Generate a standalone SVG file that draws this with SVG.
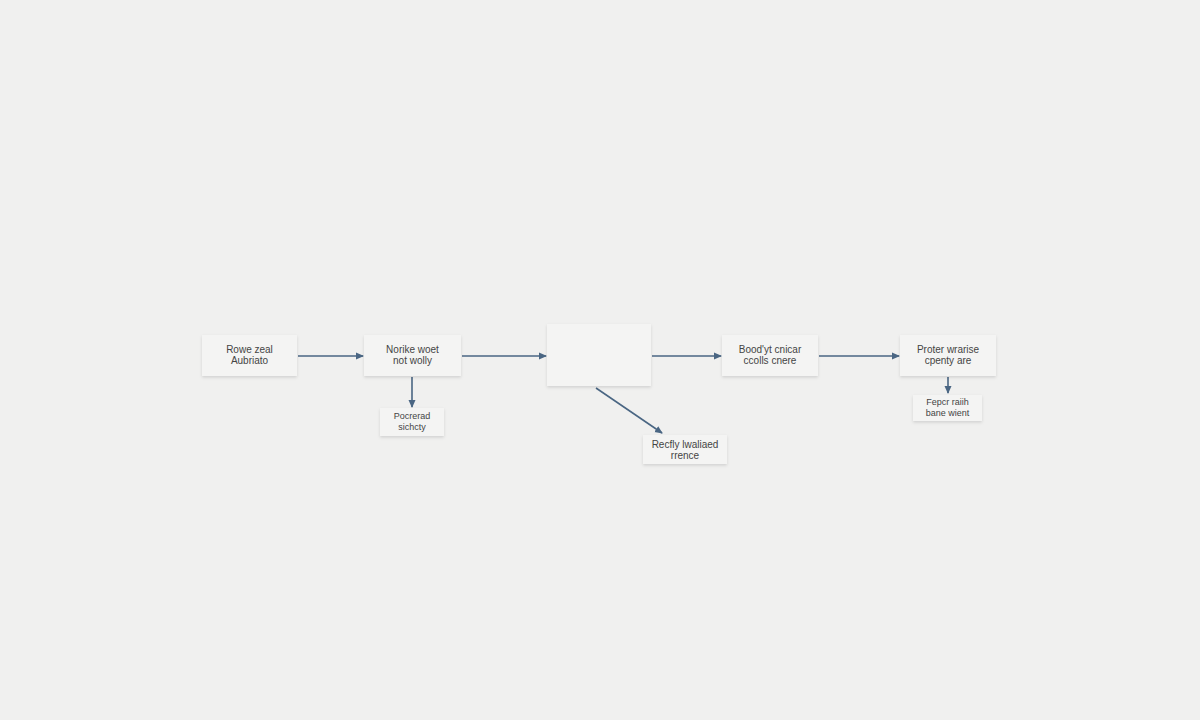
<svg xmlns="http://www.w3.org/2000/svg" width="1200" height="720" viewBox="0 0 1200 720">
<defs>
<filter id="sh" x="-20%" y="-20%" width="140%" height="160%"><feDropShadow dx="0" dy="1.5" stdDeviation="1.8" flood-color="#000" flood-opacity="0.13"/></filter>
<marker id="ah" markerWidth="8" markerHeight="8" refX="7" refY="4" orient="auto" markerUnits="userSpaceOnUse"><path d="M0,0.5 L8,4 L0,7.5 Z" fill="#4a6683"/></marker>
</defs>
<style>
.b{fill:#f4f4f3;filter:url(#sh)}
.t{font-family:"Liberation Sans",Arial,sans-serif;font-size:10px;fill:#444;text-anchor:middle}
.s{font-size:9px}
.c{stroke:#4a6683;stroke-width:1.6;fill:none;marker-end:url(#ah)}
</style>
<rect width="1200" height="720" fill="#f0f0ef"/>
<g id="connectors">
<line class="c" x1="298" y1="356" x2="363" y2="356"/>
<line class="c" x1="462" y1="356" x2="546" y2="356"/>
<line class="c" x1="652" y1="356" x2="721" y2="356"/>
<line class="c" x1="819" y1="356" x2="899" y2="356"/>
<line class="c" x1="412" y1="377" x2="412" y2="407"/>
<line class="c" x1="596" y1="388" x2="662" y2="433"/>
<line class="c" x1="948" y1="377" x2="948" y2="393"/>
</g>
<g id="n1"><rect class="b" x="202" y="335" width="95" height="41"/><text class="t" x="249.5" y="353">Rowe zeal</text><text class="t" x="249.5" y="364">Aubriato</text></g>
<g id="n2"><rect class="b" x="364" y="335" width="97" height="41"/><text class="t" x="412.5" y="353">Norike woet</text><text class="t" x="412.5" y="364">not wolly</text></g>
<g id="n3"><rect class="b" x="380" y="408" width="64" height="28"/><text class="t s" x="412" y="419">Pocrerad</text><text class="t s" x="412" y="430">sichcty</text></g>
<g id="n4"><rect class="b" x="547" y="324" width="104" height="62"/></g>
<g id="n5"><rect class="b" x="643" y="435" width="84" height="29"/><text class="t" x="685" y="448">Recfly lwaliaed</text><text class="t" x="685" y="459">rrence</text></g>
<g id="n6"><rect class="b" x="722" y="335" width="96" height="41"/><text class="t" x="770" y="353">Bood'yt cnicar</text><text class="t" x="770" y="364">ccolls cnere</text></g>
<g id="n7"><rect class="b" x="900" y="335" width="96" height="41"/><text class="t" x="948" y="353">Proter wrarise</text><text class="t" x="948" y="364">cpenty are</text></g>
<g id="n8"><rect class="b" x="913" y="395" width="69" height="26"/><text class="t s" x="947.5" y="405">Fepcr raiih</text><text class="t s" x="947.5" y="416">bane wient</text></g>
</svg>
